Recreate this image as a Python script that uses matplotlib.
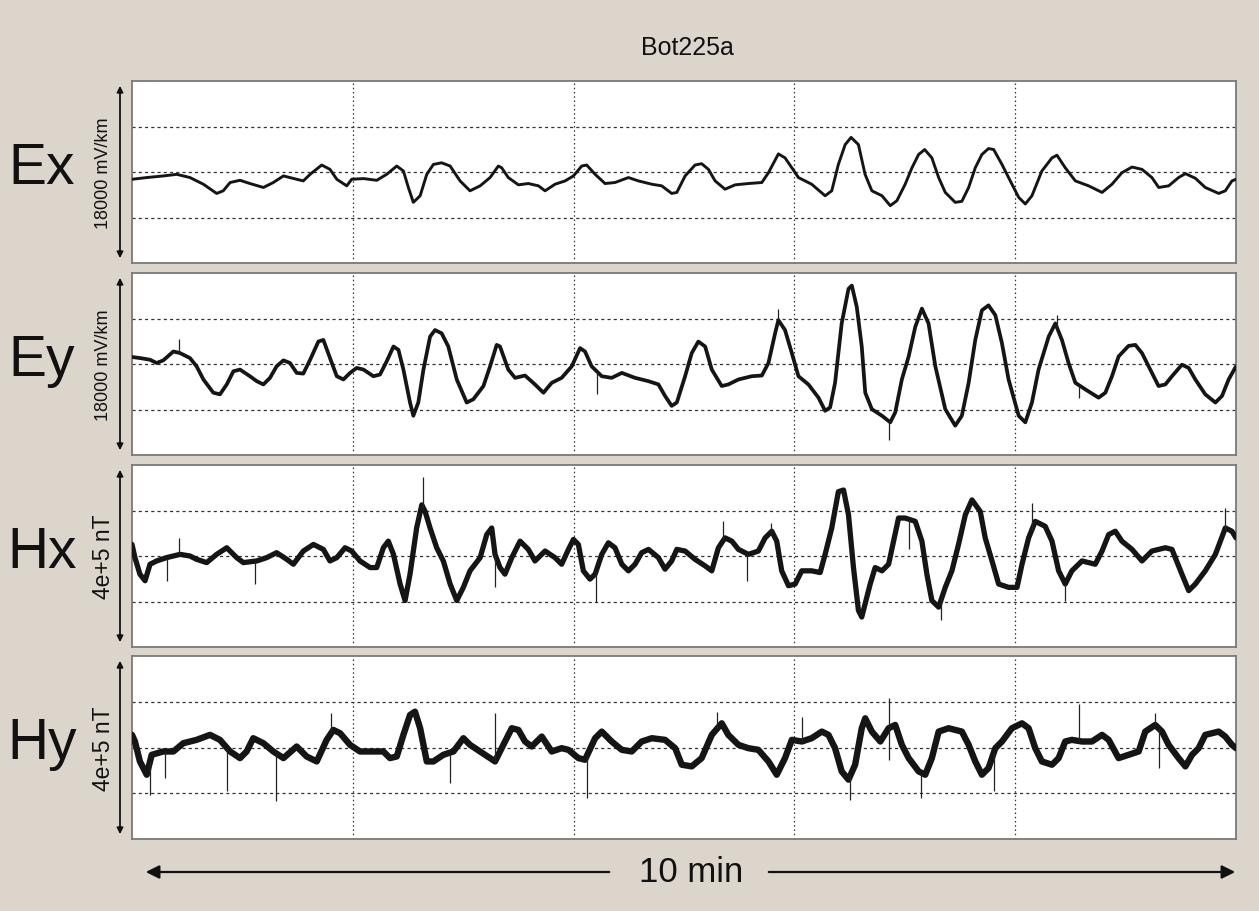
import numpy as np
import matplotlib
matplotlib.use("Agg")
import matplotlib.pyplot as plt

# ---------------- data ----------------
title = "Bot225a"
channels = ["Ex", "Ey", "Hx", "Hy"]
scale_labels = ["18000 mV/km", "18000 mV/km", "4e+5 nT", "4e+5 nT"]
half_ranges = [9000, 9000, 200000, 200000]
duration_label = "10 min"
duration_s = 600

# time in seconds, Ex/Ey in mV/km, Hx/Hy in nT
ex_t = [0, 8.0, 17.0, 24.3, 31.5, 38.8, 46.0, 49.6, 53.3, 58.7, 64.1, 71.4, 76.8, 82.3, 89.5, 93.1, 96.8, 103.1, 107.6, 111.3,
        116.7, 119.4, 125.8, 133.0, 138.4, 143.9, 147.5, 150.2, 152.9, 156.6, 160.2, 163.8, 168.3, 172.9, 178.3, 183.7, 189.2, 194.6, 199.1,
        200.9, 204.5, 210.0, 215.4, 220.9, 224.5, 229.9, 235.4, 239.9, 244.4, 247.1, 251.7, 257.1, 262.5, 269.8, 275.2, 282.5, 287.9, 293.3, 296.1,
        300.6, 306.0, 309.6, 313.3, 316.9, 322.3, 327.8, 335.0, 342.3, 345.9, 351.3, 354.9, 358.6, 362.2, 369.4, 376.7, 380.3, 383.9, 387.6, 390.8,
        394.8, 398.4,
        402.1, 407.6, 412.1, 415.7, 420.2, 423.9, 427.5, 430.8, 434.7, 438.4, 442.0, 447.4, 451.0, 454.7, 458.3, 461.9, 465.5, 468.3, 472.8, 476.4,
        481.9, 485.5, 489.1, 494.5, 500.0, 502.7, 507.2, 512.7, 519.9, 527.2, 532.6, 538.0, 543.5, 548.9, 554.3, 558.0, 563.4, 568.8, 572.5, 577.9,
        583.3, 590.6, 594.2, 597.8, 600]
ex_v = [-720, -550, -390, -230, -550, -1210, -2120, -1860, -1040, -820, -1140, -1530, -1040, -390, -720, -880, -230, 690, 260, -720,
        -1370, -720, -650, -820, -230, 590, 100, -1530, -3000, -2350, -230, 750, 910, 590, -880, -1860, -1370, -550, 590,
        420, -550, -1270, -1140, -1370, -1860, -1210, -880, -390, 590, 690, -230, -1140, -1040, -550, -880, -1210, -1370, -2120, -2020,
        -390, 690, 820, 260, -880, -1700, -1270, -1140, -1040, -70, 1790, 1400, 420, -550, -1210, -2350, -1860, 750, 2710, 3420,
        2710, -230,
        -1860, -2350, -3330, -2840, -1210, 420, 1730, 2220, 1400, -550, -2020, -3000, -2900, -1530, 420, 1730, 2320, 2220, 750, -550,
        -2510, -3160, -2350, 100, 1400, 1660, 420, -880, -1370, -2020, -1210, -70, 490, 260, -550, -1530, -1370, -550, -160, -620,
        -1530, -2120, -1860, -880, -720]

ey_t = [0, 4.3, 9.8, 13.4, 17.0, 22.5, 26.1, 31.5, 35.1, 38.8, 44.2, 47.8, 51.5, 55.1, 58.7, 64.1, 67.8, 71.4, 75.0, 78.6,
        82.3, 85.9, 89.5, 93.1, 96.8, 101.3, 104.0, 107.6, 111.3, 114.9, 118.5, 122.1, 125.8, 131.2, 134.8, 138.4, 142.1, 144.8, 147.5, 151.1,
        152.9, 155.6, 158.4, 162.0, 164.7, 168.3, 171.9, 176.5, 181.9, 185.5, 191.0, 194.6, 198.2,
        200.0, 204.5, 208.2, 213.6, 219.0, 223.6, 228.1, 233.5, 239.0, 243.5, 246.2, 249.8, 255.3, 260.7, 266.2, 273.4, 280.7, 286.1, 289.7, 293.3,
        296.1, 300.6, 304.2, 307.8, 311.5, 315.1, 320.5, 324.1, 329.6, 336.8, 342.3, 345.9, 349.5, 351.3, 354.9, 358.6, 362.2, 367.6, 373.1, 376.7,
        379.4, 382.1, 385.7, 389.4, 391.2, 393.9, 396.6,
        398.5, 402.1, 407.6, 412.1, 414.8, 418.4, 422.1, 425.7, 429.3, 432.9, 436.6, 442.0, 447.4, 451.0, 454.7, 458.3, 461.9, 465.5, 469.2, 472.8,
        476.4, 481.9, 485.5, 489.1, 492.7, 498.2, 501.8, 505.4, 509.0, 512.7, 518.1, 525.3, 529.0, 532.6, 536.2, 541.6, 545.3, 548.9, 554.3, 557.9,
        561.6, 565.2, 570.6, 574.3, 577.9, 583.3, 588.8, 592.4, 596.0, 600]
ey_v = [690, 590, 420, 100, 360, 1240, 1080, 590, -230, -1530, -2840, -3000, -2020, -720, -550, -1210, -1700, -2020, -1370, -230,
        360, 100, -880, -950, 420, 2220, 2380, 590, -1210, -1530, -880, -390, -550, -1210, -1040, 260, 1730, 1400, -550, -3810,
        -5120, -3810, -550, 2710, 3360, 3030, 1730, -1530, -3810, -3490, -2180, -230, 1890,
        1730, -550, -1370, -1140, -2020, -2840, -1860, -1370, -230, 1570, 1240, -230, -1210, -1370, -880, -1370, -1700, -2020, -3160, -4140,
        -3810, -1210, 1080, 2220, 1730, -550, -2180, -2020, -1530, -1210, -1140, 100, 3030, 4340, 3360, 1080, -1210, -2020, -3330, -4630,
        -4300, -1860, 4010, 7430, 7760, 5640, 1730,
        -2840, -4470, -5120, -5770, -4790, -1530, 750, 3680, 5480, 4010, -230, -4470, -6100, -5120, -1860, 2380, 5310, 5800, 4830, 2050,
        -1530, -5120, -5770, -3810, -550, 2710, 4010, 2380, 100, -1860, -2510, -3330, -2840, -1210, 750, 1790, 1890, 1080, -880, -2180,
        -2020, -1210, -70, -390, -1530, -3000, -3810, -3160, -1530, -230]

hx_t = [0, 1.6, 4.3, 7.1, 9.8, 13.4, 18.8, 26.1, 31.5, 35.1, 40.6, 46.0, 51.5, 56.9, 60.5, 67.8, 73.2, 78.6, 84.1, 87.7,
        93.1, 98.6, 104.0, 107.6, 111.3, 115.8, 119.4, 123.9, 129.4, 133.0, 136.6, 139.3, 142.1, 145.7, 148.4, 151.1, 154.7, 157.5, 159.3, 162.0,
        165.6, 169.2, 172.9, 176.5, 180.1, 183.7, 189.2, 192.8, 195.5,
        197.3, 200.0, 202.7, 206.4, 210.9, 215.4, 219.0, 224.5, 229.9, 233.5, 237.2, 239.9, 242.6, 245.3, 248.9, 251.7, 255.3, 258.9, 262.5, 266.2,
        269.8, 273.4, 277.0, 280.7, 286.1, 289.7, 293.3, 296.1, 300.6, 306.0, 311.5, 315.1, 318.7, 322.3, 326.0, 329.6, 335.0, 340.4, 344.1, 347.7,
        350.4, 353.1, 356.8, 360.4, 364.0, 369.4, 374.0, 376.7, 380.3, 383.9, 386.7, 389.4, 392.1, 394.8, 396.6,
        401.2, 403.9, 407.6, 411.2, 413.9, 416.6, 420.2, 425.7, 429.3, 432.0, 434.7, 438.4, 442.0, 445.6, 449.2, 452.9, 456.5, 461.0, 463.7, 467.4,
        471.0, 476.4, 481.0, 483.7, 487.3, 490.9, 496.3, 500.0, 503.6, 507.2, 510.8, 516.3, 523.5, 527.2, 530.8, 534.4, 538.0, 543.5, 548.9, 554.3,
        561.6, 565.2, 570.6, 574.3, 577.9, 583.3, 588.8, 594.2, 597.8, 600]
hx_v = [25400, -3600, -39900, -54400, -18100, -10900, -3600, 3600, 0, -7300, -14500, 3600, 18100, -3600, -14500, -10900, -3600, 7300, -7300, -18100,
        10900, 25400, 14500, -10900, -3600, 18100, 10900, -10900, -25400, -25400, 18100, 32600, 3600, -61600, -97900, -39900, 61600, 112400, 97900, 61600,
        18100, -10900, -61600, -97900, -68900, -32600, -3600, 47100, 61600,
        3600, -25400, -39900, -3600, 32600, 14500, -10900, 10900, -3600, -18100, 14500, 36300, 25400, -32600, -50800, -39900, 3600, 29000, 18100, -18100,
        -32600, -18100, 7300, 14500, -3600, -29000, -10900, 14500, 10900, -7300, -21800, -32600, 18100, 39900, 32600, 14500, 3600, 10900, 39900, 54400,
        32600, -32600, -65300, -61600, -32600, -32600, -36300, 3600, 61600, 141400, 145000, 90600, -25400, -119600, -134100,
        -61600, -25400, -32600, -18100, 32600, 83400, 83400, 76100, 32600, -39900, -97900, -112400, -68900, -32600, 25400, 90600, 123300, 97900, 39900, -10900,
        -61600, -68900, -68900, -18100, 39900, 76100, 65300, 32600, -32600, -61600, -32600, -10900, -18100, 10900, 47100, 54400, 32600, 14500, -10900, 10900,
        18100, 14500, -39900, -76100, -61600, -32600, 3600, 61600, 54400, 39900]

hy_t = [0, 1.6, 4.3, 8.0, 10.7, 17.0, 22.5, 27.9, 35.1, 42.4, 47.8, 53.3, 58.7, 62.3, 65.9, 71.4, 76.8, 82.3, 89.5, 94.9,
        100.4, 105.8, 109.4, 113.1, 118.5, 123.9, 131.2, 136.6, 140.2, 143.9, 147.5, 151.1, 153.8, 156.6, 160.2, 163.8, 169.2, 174.7, 180.1, 183.7,
        189.2, 194.6,
        197.3, 200.9, 206.4, 210.0, 213.6, 217.2, 222.7, 228.1, 233.5, 237.2, 242.6, 246.2, 251.7, 255.3, 260.7, 266.2, 271.6, 277.0, 282.5, 289.7,
        295.2, 298.8, 304.2, 309.6, 315.1, 320.5, 324.1, 329.6, 335.0, 340.4, 345.9, 350.4, 354.9, 358.6, 364.0, 369.4, 374.9, 378.5, 382.1, 385.7,
        389.4, 393.0, 396.6,
        398.5, 402.1, 406.7, 411.2, 414.8, 418.4, 422.1, 427.5, 431.1, 434.7, 438.4, 443.8, 451.0, 454.7, 458.3, 461.9, 465.5, 469.2, 472.8, 478.2,
        483.7, 487.3, 490.9, 494.5, 500.0, 503.6, 507.2, 510.8, 516.3, 521.7, 527.2, 530.8, 536.2, 541.6, 547.1, 550.7, 556.1, 559.8, 563.4, 568.8,
        572.5, 576.1, 579.7, 583.3, 590.6, 594.2, 597.8, 600]
hy_v = [27600, 13100, -30500, -59500, -16000, -8700, -8700, 9400, 16700, 27600, 16700, -8700, -23200, -8700, 20300, 9400, -8700, -23200, 2200, -19600,
        -30500, 16700, 38400, 31200, 5800, -8700, -8700, -8700, -23200, -19600, 27600, 71100, 78300, 42100, -30500, -30500, -16000, -8700, 20300, 5800,
        -8700, -23200,
        -30500, -1500, 42100, 38400, 13100, 2200, 23900, -8700, -1500, -5100, -23200, -26800, 20300, 34800, 13100, -5100, -8700, 13100, 20300, 16700,
        -1500, -37700, -41300, -23200, 27600, 52900, 27600, 5800, -1500, -5100, -30500, -59500, -23200, 16700, 13100, 20300, 34800, 27600, -1500, -52200,
        -70300, -37700, 42100,
        63800, 34800, 13100, 42100, 49300, 5800, -23200, -52200, -59500, -23200, 34800, 42100, 34800, 5800, -30500, -59500, -45000, -1500, 13100, 42100,
        52900, 42100, -1500, -30500, -37700, -23200, 13100, 16700, 13100, 13100, 27600, 16700, -23200, -16000, -8700, 34800, 49300, 34800, 5800, -23200,
        -41300, -16000, -1500, 27600, 34800, 23900, 5800, -1500]

# isolated spikes (time, tip value)
ex_spike_t = []
ex_spike_v = []
ey_spike_t = [25.7, 252.6, 351.3, 411.5, 502.7, 514.5]
ey_spike_v = [2480, -3000, 5480, -7560, 4830, -3330]
hx_spike_t = [18.8, 25.7, 66.9, 158.4, 197.3, 252.0, 321.4, 334.1, 347.2, 422.1, 439.8, 489.1, 507.2, 593.8]
hx_spike_v = [-54400, 39900, -61600, 174000, -68900, -101500, 76100, -54400, 72500, 14500, -141400, 116000, -97900, 105100]
hy_spike_t = [9.8, 17.9, 51.5, 78.3, 108.0, 172.9, 197.3, 247.1, 317.8, 364.0, 390.3, 411.5, 411.5, 428.9, 468.3, 514.5, 556.1, 558.0]
hy_spike_v = [-102900, -66700, -95700, -117400, 76100, -77600, 76100, -110200, 78300, 67400, -113800, 107300, -26800, -110200, -94200, 94200, 74700, -45700]

series = [(ex_t, ex_v, ex_spike_t, ex_spike_v),
          (ey_t, ey_v, ey_spike_t, ey_spike_v),
          (hx_t, hx_v, hx_spike_t, hx_spike_v),
          (hy_t, hy_v, hy_spike_t, hy_spike_v)]

# ---------------- style ----------------
plt.rcParams['font.family'] = ['Liberation Sans', 'DejaVu Sans']

BG = '#DCD5CC'
W, H = 1259, 912
fig = plt.figure(figsize=(W / 100, H / 100), dpi=100, facecolor=BG)

panel_px = [(82, 264), (274, 456), (466, 648), (657, 840)]
left_px, right_px = 132, 1236
line_w = [2.1, 2.7, 3.8, 4.6]
label_fs = [13, 13, 16.5, 16.5]

for i, ((t, v, st, sv), (top, bot)) in enumerate(zip(series, panel_px)):
    ax = fig.add_axes([left_px / W, 1 - bot / H, (right_px - left_px) / W, (bot - top) / H])
    ax.set_facecolor('white')
    hr = half_ranges[i]
    ax.set_xlim(0, duration_s)
    ax.set_ylim(-hr, hr)
    for xg in [120, 240, 360, 480]:
        ax.axvline(xg, color='#333333', lw=0.9, ls=(0, (1.2, 2.2)), zorder=1)
    for yg in [-hr / 2, 0, hr / 2]:
        ax.axhline(yg, color='#333333', lw=0.9, ls=(0, (2.5, 2.5)), zorder=1)
    ax.plot(t, v, color='#151515', lw=line_w[i], solid_joinstyle='round', solid_capstyle='round', zorder=3)
    if st:
        base = np.interp(st, t, v)
        ax.vlines(st, base, sv, color='#222222', lw=0.9, zorder=3)
    ax.set_xticks([])
    ax.set_yticks([])
    for s in ax.spines.values():
        s.set_color('#7a7a7a')
        s.set_linewidth(1.3)

    yc = 1 - (top + bot) / 2 / H
    fig.text(42 / W, yc + 4 / H, channels[i], fontsize=41, ha='center', va='center', color='#111111')
    fig.text(104 / W, yc, scale_labels[i], fontsize=label_fs[i], rotation=90,
             ha='center', va='center', color='#111111')
    fig.add_artist(matplotlib.patches.FancyArrowPatch(
        (120 / W, 1 - (top + 2) / H), (120 / W, 1 - (bot - 2) / H), transform=fig.transFigure,
        arrowstyle='<|-|>', mutation_scale=9, lw=1.3, color='#111111'))

fig.text((left_px + right_px) / 2 / W + 3 / W, 1 - 48 / H, title, fontsize=18, ha='center', va='center', color='#111111')

# bottom time arrow (two halves around the label)
ya = 1 - 873 / H
fig.add_artist(matplotlib.patches.FancyArrowPatch(
    (612 / W, ya), (143 / W, ya), transform=fig.transFigure,
    arrowstyle='-|>', mutation_scale=20, lw=1.6, color='#111111'))
fig.add_artist(matplotlib.patches.FancyArrowPatch(
    (766 / W, ya), (1238 / W, ya), transform=fig.transFigure,
    arrowstyle='-|>', mutation_scale=20, lw=1.6, color='#111111'))
fig.text(691 / W, ya, duration_label, fontsize=25, ha='center', va='center', color='#111111')

fig.savefig('out.png', dpi=100, facecolor=BG)
